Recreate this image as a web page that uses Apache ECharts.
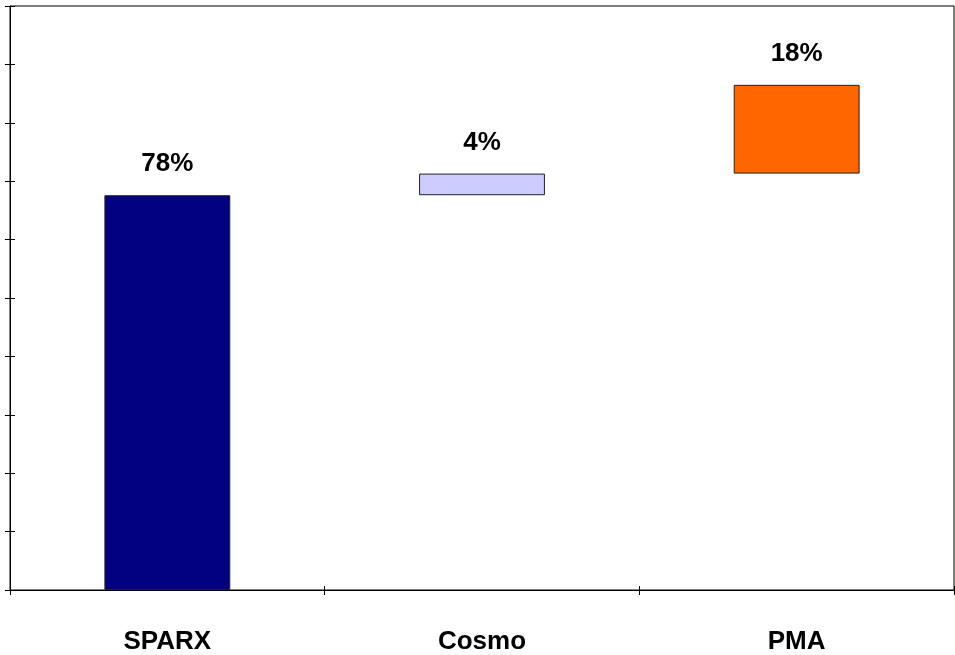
<!DOCTYPE html>
<html>
<head>
<meta charset="utf-8">
<script src="https://cdn.jsdelivr.net/npm/echarts@6/dist/echarts.min.js"></script>
<style>
html,body{margin:0;padding:0;background:#fff;}
#chart{width:955px;height:655px;}
</style>
</head>
<body>
<div id="chart"></div>
<script>
// Data (axis 0..100, 10 intervals)
const categories = ['SPARX', 'Cosmo', 'PMA'];
const values = [67.6, 3.7, 15.2];
const valueLabels = ['78%', '4%', '18%'];
const yMin = 0;
const yMax = 100;
const yInterval = 10;

const barColors = ['#000080', '#CCCCFF', '#FF6600'];

// invisible base for the waterfall
const bases = [];
let run = 0;
for (let i = 0; i < values.length; i++) { bases.push(run); run += values[i]; }

const font = '"Liberation Sans", Arial, Helvetica, sans-serif';

const chart = echarts.init(document.getElementById('chart'), null, {renderer: 'canvas'});
chart.setOption({
  animation: false,
  backgroundColor: '#ffffff',
  grid: {left: 10, right: 1, top: 6, bottom: 64, show: true, borderColor: '#000', borderWidth: 1, backgroundColor: 'transparent'},
  xAxis: [{
    type: 'category', data: categories, position: 'bottom',
    axisLine: {lineStyle: {color: '#000', width: 1}},
    axisTick: {show: true, inside: false, length: 5, lineStyle: {color: '#000'}},
    axisLabel: {color: '#000', fontFamily: font, fontWeight: 'bold', fontSize: 26, margin: 39},
    splitLine: {show: false}
  }, {
    type: 'category', data: categories, position: 'bottom',
    axisLine: {show: false},
    axisTick: {show: true, inside: true, length: 4, lineStyle: {color: '#000'}},
    axisLabel: {show: false},
    splitLine: {show: false}
  }],
  yAxis: [{
    type: 'value', min: yMin, max: yMax, interval: yInterval,
    axisLine: {show: true, lineStyle: {color: '#000', width: 1}},
    axisTick: {show: true, inside: false, length: 5, lineStyle: {color: '#000'}},
    axisLabel: {show: false},
    splitLine: {show: false}
  }, {
    type: 'value', min: yMin, max: yMax, interval: yInterval, position: 'left', offset: 0,
    axisLine: {show: false},
    axisTick: {show: true, inside: true, length: 5, lineStyle: {color: '#000'}},
    axisLabel: {show: false},
    splitLine: {show: false}
  }],
  series: [{
    type: 'bar', stack: 'w', barWidth: '40%',
    itemStyle: {color: 'transparent', borderColor: 'transparent'},
    emphasis: {disabled: true},
    data: bases
  }, {
    type: 'bar', stack: 'w', barWidth: '40%',
    data: values.map((v, i) => ({
      value: v,
      itemStyle: {color: barColors[i], borderColor: '#222', borderWidth: 1}
    })),
    label: {
      show: true, position: 'top', distance: 18,
      color: '#000', fontFamily: font, fontWeight: 'bold', fontSize: 26,
      formatter: p => valueLabels[p.dataIndex]
    }
  }]
});
</script>
</body>
</html>
